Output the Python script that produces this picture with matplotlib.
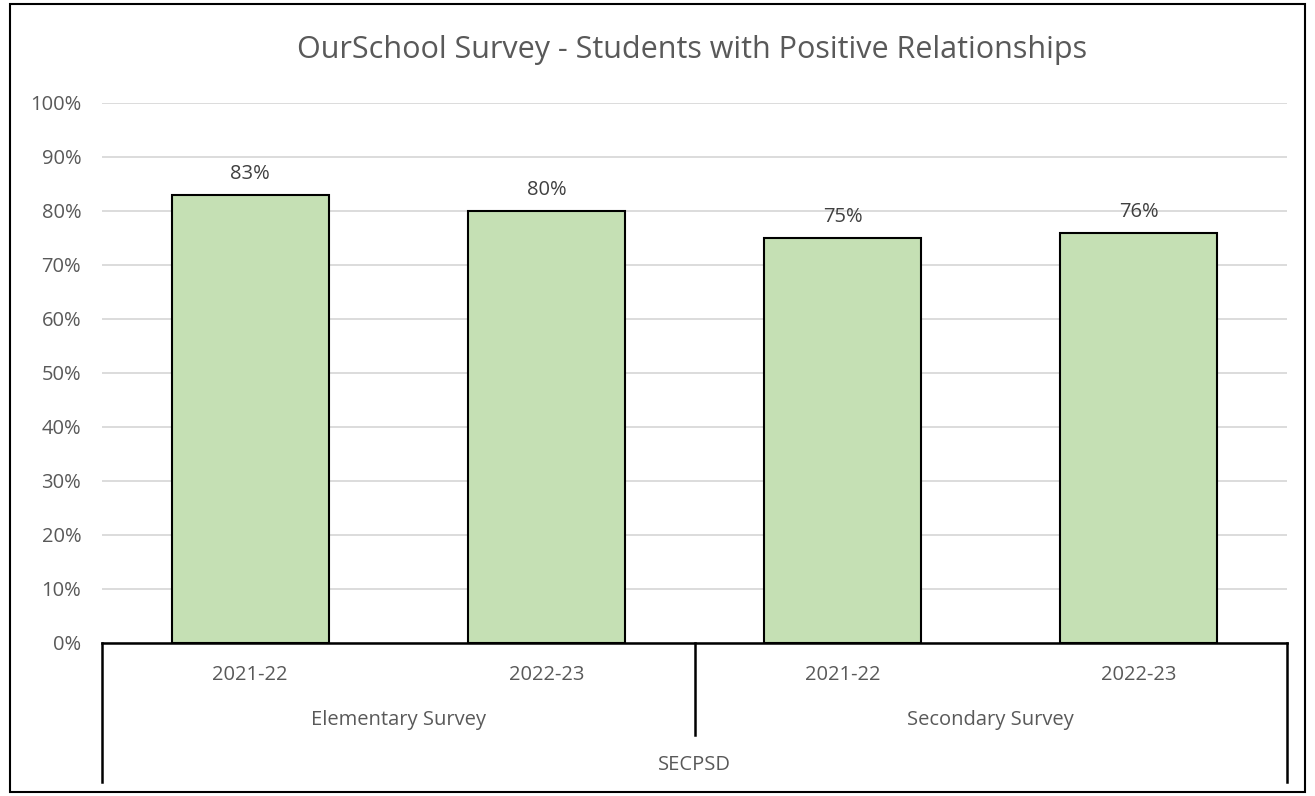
import matplotlib.pyplot as plt
import matplotlib.transforms as mtransforms
from matplotlib.patches import Rectangle

# data
years = ["2021-22", "2022-23", "2021-22", "2022-23"]
groups = ["Elementary Survey", "Secondary Survey"]
top_label = "SECPSD"
values = [83, 80, 75, 76]
yticks = list(range(0, 101, 10))

plt.rcParams['font.family'] = ['Open Sans', 'DejaVu Sans']
TXT = "#595959"
FS = 14.5

W, H = 1315, 796
fig = plt.figure(figsize=(W / 100, H / 100), dpi=100)

# plot area in pixels
left, right, top, bottom = 102, 1287, 103, 643
ax = fig.add_axes([left / W, 1 - bottom / H, (right - left) / W, (bottom - top) / H])

x = list(range(len(values)))
ax.bar(x, values, width=0.53, color="#C5E0B4", edgecolor="black", linewidth=1.5, zorder=3)
for xi, v in zip(x, values):
    ax.text(xi, v + 2.0, f"{v}%", ha="center", va="bottom", fontsize=FS, color="#404040")

ax.set_xlim(-0.5, len(values) - 0.5)
ax.set_ylim(0, 100)
ax.set_yticks(yticks)
ax.set_yticklabels([f"{t}%" for t in yticks], fontsize=FS, color=TXT)
ax.tick_params(axis="y", length=0, pad=15)
ax.tick_params(axis="x", length=0, labelbottom=False)
ax.grid(axis="y", color="#D9D9D9", linewidth=1.3, zorder=0)
for s in ["top", "right", "left"]:
    ax.spines[s].set_visible(False)
ax.spines["bottom"].set_linewidth(1.8)
ax.spines["bottom"].set_zorder(4)

# multi-level category axis
tr = mtransforms.blended_transform_factory(ax.transData, ax.transAxes)
span = bottom - top
y_year = -32 / span
y_group = -77 / span
y_top = -122 / span
y_full = -139 / span
y_mid = -92 / span

for xi, lab in zip(x, years):
    ax.text(xi, y_year, lab, transform=tr, ha="center", va="center", fontsize=FS, color=TXT)
for gi, lab in enumerate(groups):
    ax.text(gi * 2 + 0.5, y_group, lab, transform=tr, ha="center", va="center", fontsize=FS, color=TXT)
ax.text(1.5, y_top, top_label, transform=tr, ha="center", va="center", fontsize=FS, color=TXT)

for xs, ye in [(-0.5, y_full), (1.5, y_mid), (3.5, y_full)]:
    ax.plot([xs, xs], [0, ye], transform=tr, color="black", linewidth=1.8, clip_on=False)

fig.text(692 / W, 1 - 50 / H, "OurSchool Survey - Students with Positive Relationships",
         ha="center", va="center", fontsize=22, color=TXT)

# outer chart border
fig.patches.append(Rectangle((10 / W, 4 / H), 1295 / W, 788 / H, transform=fig.transFigure,
                             fill=False, edgecolor="black", linewidth=1.5))

fig.savefig("out.png", dpi=100)
